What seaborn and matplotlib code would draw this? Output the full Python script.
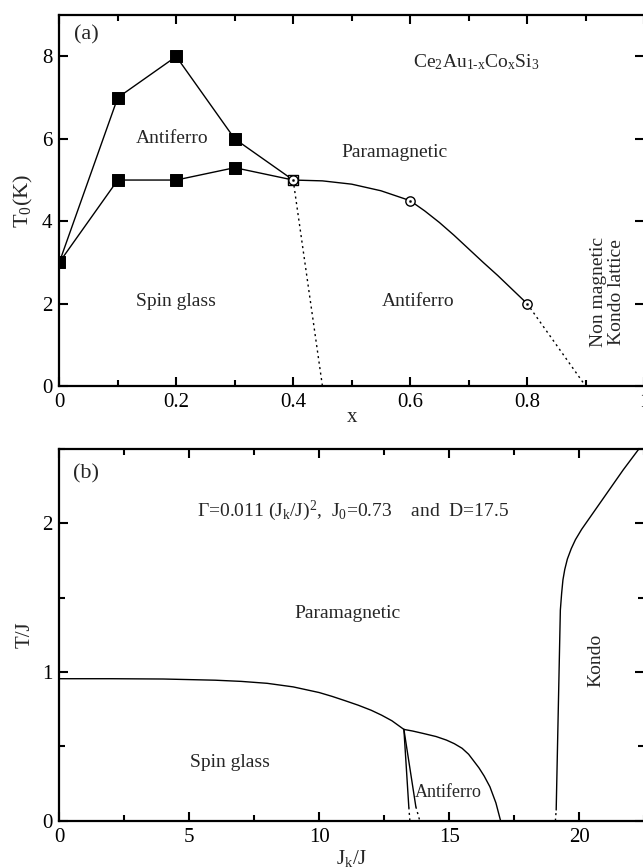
import numpy as np
import seaborn as sns
import matplotlib.pyplot as plt
import pandas as pd
from matplotlib.ticker import MultipleLocator

sns.set_theme(style="ticks")
plt.rcParams['font.family'] = ['Liberation Serif', 'DejaVu Serif']
plt.rcParams['mathtext.default'] = 'regular'
plt.rcParams['mathtext.fontset'] = 'custom'
plt.rcParams['mathtext.rm'] = 'Liberation Serif'

# panel (a) data, Ce2Au(1-x)Co(x)Si3
x_upper = [0.0, 0.1, 0.2, 0.3, 0.4]
t_upper = [3.0, 7.0, 8.0, 6.0, 5.0]
x_lower = [0.0, 0.1, 0.2, 0.3, 0.4]
t_lower = [3.0, 5.0, 5.0, 5.3, 5.0]
x_af = [0.4, 0.45, 0.5, 0.55, 0.6, 0.625, 0.65, 0.675, 0.7, 0.725, 0.75, 0.775, 0.8]
t_af = [5.0, 4.98, 4.9, 4.74, 4.5, 4.25, 3.97, 3.66, 3.33, 3.0, 2.68, 2.34, 2.0]
x_open = [0.4, 0.6, 0.8]
t_open = [5.0, 4.5, 2.0]
x_dot1 = [0.4, 0.45]
t_dot1 = [5.0, 0.0]
x_dot2 = [0.8, 0.9]
t_dot2 = [2.0, 0.0]

# panel (b) data, T/J vs Jk/J
jk_sg = [0, 2, 4, 6, 7, 8, 9, 10, 10.5, 11, 11.5, 12, 12.4, 12.8, 13.26]
tj_sg = [0.955, 0.955, 0.953, 0.945, 0.937, 0.924, 0.9, 0.862, 0.836, 0.807, 0.777, 0.743, 0.71, 0.672, 0.614]
jk_af = [13.26, 13.6, 14.0, 14.5, 14.9, 15.2, 15.5, 15.75, 15.92, 16.15, 16.35, 16.57, 16.8, 16.98]
tj_af = [0.614, 0.603, 0.587, 0.566, 0.542, 0.518, 0.487, 0.447, 0.408, 0.355, 0.3, 0.228, 0.12, 0.0]
jk_l1 = [13.26, 13.45]
tj_l1 = [0.614, 0.09]
jk_l1d = [13.45, 13.49]
tj_l1d = [0.09, 0.0]
jk_l2 = [13.26, 13.72]
tj_l2 = [0.614, 0.094]
jk_l2d = [13.72, 13.87]
tj_l2d = [0.094, 0.0]
jk_kondo = [19.12, 19.28, 19.33, 19.38, 19.45, 19.55, 19.7, 19.86, 20.1, 20.34, 20.7, 21.06, 21.7, 22.3]
tj_kondo = [0.072, 1.416, 1.53, 1.62, 1.69, 1.76, 1.83, 1.89, 1.96, 2.02, 2.11, 2.2, 2.36, 2.5]
jk_kd = [19.09, 19.12]
tj_kd = [0.0, 0.072]

fig = plt.figure(figsize=(6.43, 8.68), dpi=100)
ax1 = fig.add_axes([0.0922, 0.5553, 0.9094, 0.4271])
ax2 = fig.add_axes([0.0922, 0.0545, 0.9094, 0.4282])

def line(ax, xs, ys, ls='-', lw=1.0):
    df = pd.DataFrame({'x': xs, 'y': ys})
    sns.lineplot(data=df, x='x', y='y', sort=False, estimator=None, color='black',
                 lw=lw, linestyle=ls, ax=ax)

# ---- (a)
line(ax1, x_upper, t_upper)
line(ax1, x_lower, t_lower)
line(ax1, x_af, t_af)
line(ax1, x_dot1, t_dot1, ls=(0, (1.5, 2.5)))
line(ax1, x_dot2, t_dot2, ls=(0, (1.5, 2.5)))
sq = pd.DataFrame({'x': x_upper[:-1] + x_lower[1:-1], 'y': t_upper[:-1] + t_lower[1:-1]})
sns.scatterplot(data=sq, x='x', y='y', marker='s', s=75, color='black', edgecolor='black', ax=ax1, zorder=5)
ax1.scatter([x_open[0]], [t_open[0]], marker='s', s=55, facecolor='white', edgecolor='black', lw=1, zorder=6)
op = pd.DataFrame({'x': x_open, 'y': t_open})
sns.scatterplot(data=op, x='x', y='y', marker='o', s=45, facecolor='white', edgecolor='black', linewidth=1, ax=ax1, zorder=7)
sns.scatterplot(data=op, x='x', y='y', marker='o', s=3, color='black', edgecolor='black', ax=ax1, zorder=8)

ax1.set_xlim(0, 1)
ax1.set_ylim(0, 9)
ax1.xaxis.set_minor_locator(MultipleLocator(0.1))
ax1.yaxis.set_major_locator(MultipleLocator(2))
ax1.set_xticks([0, 0.2, 0.4, 0.6, 0.8, 1.0])
ax1.set_xticklabels(['0', '0.2', '0.4', '0.6', '0.8', '1'])
ax1.set_xlabel('x', fontsize=15, labelpad=-3)
ax1.set_ylabel('T$_0$(K)', fontsize=16, labelpad=5)

fs = 14
ax1.text(0.046, 8.52, '(a)', fontsize=16, ha='center', va='center')
ax1.text(0.714, 7.87, 'Ce$_2$Au$_{1\u2011x}$Co$_x$Si$_3$', fontsize=fs, ha='center', va='center')
ax1.text(0.193, 6.0, 'Antiferro', fontsize=fs, ha='center', va='center')
ax1.text(0.573, 5.68, 'Paramagnetic', fontsize=fs, ha='center', va='center')
ax1.text(0.2, 2.06, 'Spin glass', fontsize=fs, ha='center', va='center')
ax1.text(0.614, 2.06, 'Antiferro', fontsize=fs, ha='center', va='center')
ax1.text(0.937, 2.28, 'Non magnetic\nKondo lattice', fontsize=fs, ha='center', va='center',
         rotation=90, linespacing=1.05)

# ---- (b)
line(ax2, jk_sg, tj_sg)
line(ax2, jk_af, tj_af)
line(ax2, jk_l1, tj_l1)
line(ax2, jk_l2, tj_l2)
line(ax2, jk_l1d, tj_l1d, ls=(0, (1.5, 2.5)))
line(ax2, jk_l2d, tj_l2d, ls=(0, (1.5, 2.5)))
line(ax2, jk_kondo, tj_kondo)
line(ax2, jk_kd, tj_kd, ls=(0, (1.5, 2.5)))

ax2.set_xlim(0, 22.5)
ax2.set_ylim(0, 2.5)
ax2.xaxis.set_major_locator(MultipleLocator(5))
ax2.xaxis.set_minor_locator(MultipleLocator(2.5))
ax2.yaxis.set_major_locator(MultipleLocator(1))
ax2.yaxis.set_minor_locator(MultipleLocator(0.5))
ax2.set_xlabel('J$_k$/J', fontsize=15, labelpad=1)
ax2.set_ylabel('T/J', fontsize=15, labelpad=5)

ax2.text(1.03, 2.33, '(b)', fontsize=16, ha='center', va='center')
ax2.text(11.3, 2.085, '\u0393=0.011 (J$_k$/J)$^2$,  J$_0$=0.73    and  D=17.5', fontsize=fs,
         ha='center', va='center')
ax2.text(11.09, 1.396, 'Paramagnetic', fontsize=fs, ha='center', va='center')
ax2.text(6.55, 0.39, 'Spin glass', fontsize=fs, ha='center', va='center')
ax2.text(14.98, 0.19, 'Antiferro', fontsize=13, ha='center', va='center')
ax2.text(20.66, 1.08, 'Kondo', fontsize=fs, ha='center', va='center', rotation=90)

for ax in (ax1, ax2):
    for sp in ax.spines.values():
        sp.set_linewidth(1.6)
        sp.set_color('black')
    ax.tick_params(which='both', direction='in', top=True, right=True, colors='black',
                   labelsize=15, width=1.5, pad=5)
    ax.tick_params(which='major', length=6.5)
    ax.tick_params(which='minor', length=4)
    ax.set_facecolor('white')

fig.savefig('out.png', dpi=100, facecolor='white')
